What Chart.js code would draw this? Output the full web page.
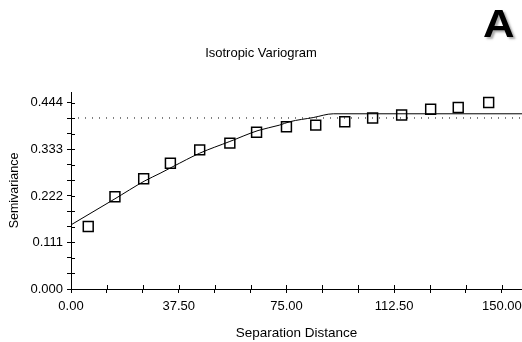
<!DOCTYPE html>
<html>
<head>
<meta charset="utf-8">
<script src="https://cdn.jsdelivr.net/npm/chart.js@4/dist/chart.umd.min.js"></script>
<style>
  html, body { margin: 0; padding: 0; background: #fff; }
  #wrap { position: relative; width: 522px; height: 342px; }
  #badge { position: absolute; left: 483px; top: 2px; font: bold 39px "Liberation Sans", Arial, sans-serif; color: #000; text-shadow: 2px 2px 2px #aaa; transform: scaleX(1.12); transform-origin: left top; }
</style>
</head>
<body>
<div id="wrap">
  <canvas id="c" width="522" height="342"></canvas>
  <div id="badge">A</div>
</div>
<script>
const TITLE = 'Isotropic Variogram';
const X_TITLE = 'Separation Distance';
const Y_TITLE = 'Semivariance';

// Experimental variogram points
const LAGS = [6, 15.3, 25.3, 34.6, 44.8, 55.3, 64.6, 75, 85.2, 95.3, 105, 115.1, 125.2, 134.8, 145.4];
const SEMIVAR = [0.149, 0.220, 0.263, 0.300, 0.332, 0.348, 0.374, 0.387, 0.391, 0.399, 0.408, 0.415, 0.429, 0.433, 0.445];

// Fitted model curve
const MODEL_X = [0, 15, 25.7, 31, 35.5, 44.8, 55.3, 65.1, 72.6, 76.1, 84.3, 91.3, 157];
const MODEL_Y = [0.153, 0.214, 0.258, 0.276, 0.292, 0.324, 0.352, 0.378, 0.391, 0.399, 0.409, 0.418, 0.418];

// Sample variance (dotted)
const SILL_X = [0, 157];
const SILL_Y = [0.408, 0.408];

// Axis ticks
const X_TICKS = [0, 12.5, 25, 37.5, 50, 62.5, 75, 87.5, 100, 112.5, 125, 137.5, 150];
const X_TICK_LABELS = ['0.00', '', '', '37.50', '', '', '75.00', '', '', '112.50', '', '', '150.00'];
const Y_TICKS = [0, 0.037, 0.074, 0.111, 0.148, 0.185, 0.222, 0.259, 0.296, 0.333, 0.370, 0.407, 0.444];
const Y_TICK_LABELS = ['0.000', '', '', '0.111', '', '', '0.222', '', '', '0.333', '', '', '0.444'];

const FAMILY = '"Liberation Sans", Arial, sans-serif';

const toXY = (xs, ys) => xs.map((x, i) => ({ x: x, y: ys[i] }));

// draws the inner half of the crossing tick marks
const innerTicks = {
  id: 'innerTicks',
  afterDraw(chart) {
    const { ctx, chartArea, scales } = chart;
    ctx.save();
    ctx.strokeStyle = '#000';
    ctx.lineWidth = 1;
    ctx.beginPath();
    scales.x.ticks.forEach(t => {
      const px = Math.round(scales.x.getPixelForValue(t.value)) + 0.5;
      ctx.moveTo(px, chartArea.bottom);
      ctx.lineTo(px, chartArea.bottom - 4);
    });
    scales.y.ticks.forEach(t => {
      const py = Math.round(scales.y.getPixelForValue(t.value)) + 0.5;
      ctx.moveTo(chartArea.left, py);
      ctx.lineTo(chartArea.left + 4, py);
    });
    ctx.stroke();
    ctx.restore();
  }
};

new Chart(document.getElementById('c'), {
  type: 'scatter',
  data: {
    datasets: [
      {
        type: 'line',
        data: toXY(SILL_X, SILL_Y),
        borderColor: '#000',
        borderWidth: 1,
        borderDash: [1, 6],
        pointRadius: 0,
        fill: false
      },
      {
        type: 'line',
        data: toXY(MODEL_X, MODEL_Y),
        borderColor: '#000',
        borderWidth: 1,
        pointRadius: 0,
        cubicInterpolationMode: 'monotone',
        fill: false
      },
      {
        type: 'scatter',
        data: toXY(LAGS, SEMIVAR),
        pointStyle: 'rect',
        pointRadius: 7,
        pointBorderWidth: 1.5,
        pointBackgroundColor: 'rgba(0,0,0,0)',
        pointBorderColor: '#000',
        clip: false
      }
    ]
  },
  options: {
    responsive: false,
    animation: false,
    devicePixelRatio: 1,
    layout: { autoPadding: false, padding: { top: 0, right: 0, bottom: 0, left: 0 } },
    plugins: {
      legend: { display: false },
      tooltip: { enabled: false },
      title: {
        display: true,
        text: TITLE,
        color: '#000',
        font: { family: FAMILY, size: 13, weight: 'normal' },
        padding: { top: 45.2, bottom: 31.2 }
      }
    },
    scales: {
      x: {
        type: 'linear',
        min: 0,
        max: 157,
        afterBuildTicks: s => { s.ticks = X_TICKS.map(v => ({ value: v })); },
        afterFit: s => { s.height = 342 - 289; s.paddingRight = 0; s.paddingLeft = 0; },
        ticks: {
          color: '#000',
          font: { family: FAMILY, size: 13 },
          padding: 6,
          maxRotation: 0,
          autoSkip: false,
          callback: (v, i) => X_TICK_LABELS[i]
        },
        grid: { drawOnChartArea: false, drawTicks: true, tickLength: 4, color: '#000' },
        border: { display: true, color: '#000', width: 1 },
        title: {
          display: true,
          text: X_TITLE,
          color: '#000',
          font: { family: FAMILY, size: 13.5 },
          padding: { top: 0, bottom: 1 }
        }
      },
      y: {
        type: 'linear',
        min: 0,
        max: 0.47,
        afterBuildTicks: s => { s.ticks = Y_TICKS.map(v => ({ value: v })); },
        afterFit: s => { s.width = 71; s.paddingTop = 0; s.paddingBottom = 0; },
        ticks: {
          color: '#000',
          font: { family: FAMILY, size: 13 },
          padding: 4,
          autoSkip: false,
          callback: (v, i) => Y_TICK_LABELS[i]
        },
        grid: { drawOnChartArea: false, drawTicks: true, tickLength: 4, color: '#000' },
        border: { display: true, color: '#000', width: 1 },
        title: {
          display: true,
          text: Y_TITLE,
          color: '#000',
          font: { family: FAMILY, size: 12.5 },
          padding: { top: 7, bottom: 0 }
        }
      }
    }
  },
  plugins: [innerTicks]
});
</script>
</body>
</html>
